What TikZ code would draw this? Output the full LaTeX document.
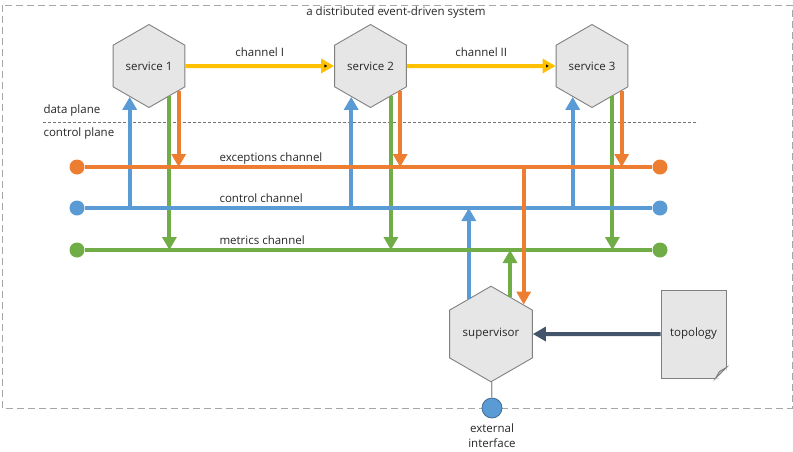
\documentclass[tikz,border=0pt]{standalone}
\usepackage{fontspec}
\setmainfont{Open Sans}
\usepackage{tikz}
\usetikzlibrary{arrows.meta,shapes.geometric,positioning}

\definecolor{exorange}{HTML}{ED7D31}
\definecolor{ctlblue}{HTML}{5B9BD5}
\definecolor{metgreen}{HTML}{70AD47}
\definecolor{datayellow}{HTML}{FFC000}
\definecolor{toponavy}{HTML}{44546A}
\definecolor{hexfill}{HTML}{E7E6E6}
\definecolor{hexline}{HTML}{808080}
\definecolor{foldgray}{HTML}{BFBFBF}

\begin{document}
\begin{tikzpicture}[x=1pt,y=-1pt,node distance=221.5pt,
    >={Triangle[length=13pt,width=14pt]},
    font=\fontsize{11.5}{15}\selectfont,text=black!85,
    service/.style={regular polygon,regular polygon sides=6,shape border rotate=30,
        draw=hexline,fill=hexfill,line width=0.9pt,minimum size=83pt,inner sep=1pt},
    doc/.style={rectangle,draw=hexline,fill=hexfill,line width=0.9pt,minimum width=65pt,minimum height=88pt},
    chan/.style={line width=4pt,draw=#1},
    flow/.style={->,line width=4pt,draw=#1},
    dot/.style={circle,fill=#1,minimum size=15pt,inner sep=0pt},
    ext dot/.style={circle,fill=ctlblue,draw=ctlblue!70!black,line width=0.8pt,minimum size=20pt,inner sep=0pt},
    frame/.style={draw=black!35,line width=1pt,dash pattern=on 7pt off 4pt},
    plane line/.style={draw=black!55,line width=0.8pt,dash pattern=on 3pt off 2pt}]

  \useasboundingbox (0,0) rectangle (793,451);
  \draw[frame] (2,5) rectangle (792,408);
  \node[anchor=base] (title) at (396,15) {a distributed event-driven system};

  \node[service] (s1) at (149,66) {service 1};
  \node[service] (s2) [right of=s1] {service 2};
  \node[service] (s3) [right of=s2] {service 3};
  \node[service] (sup) at (491,334) {supervisor};
  \node[doc] (topo) at (693.5,334) {\raisebox{3pt}{topology}};
  \fill[white] ([yshift=11pt]topo.south east) -- ([xshift=1pt,yshift=-1pt]topo.south east)
        -- ([xshift=-11pt]topo.south east) -- cycle;
  \filldraw[draw=hexline,fill=foldgray,line width=0.9pt] ([yshift=11pt]topo.south east)
        -- ([xshift=-11pt]topo.south east) -- ([xshift=-7pt,yshift=7pt]topo.south east) -- cycle;

  \path[flow=datayellow] (s1) edge node[above=4pt] {channel I} (s2)
                         (s2) edge node[above=4pt] {channel II} (s3);

  \node[anchor=base west] (dp) at (40,113.5) {data plane};
  \node[anchor=base west] (cp) at (40,136.5) {control plane};
  \draw[plane line] (43,122) -- (698,122);

  \node[dot=exorange] (exL) at (77,167) {};
  \node[dot=exorange] (exR) at (660,167) {};
  \node[dot=ctlblue] (ctlL) at (77,208) {};
  \node[dot=ctlblue] (ctlR) at (660,208) {};
  \node[dot=metgreen] (metL) at (77,250) {};
  \node[dot=metgreen] (metR) at (660,250) {};

  \draw[flow=ctlblue] (s1.238 |- ctlL) -- (s1.238);
  \draw[flow=metgreen] (s1.304) -- (s1.304 |- metL);
  \draw[flow=exorange] (s1.320) -- (s1.320 |- exL);
  \draw[flow=ctlblue] (s2.238 |- ctlL) -- (s2.238);
  \draw[flow=metgreen] (s2.304) -- (s2.304 |- metL);
  \draw[flow=exorange] (s2.320) -- (s2.320 |- exL);
  \draw[flow=ctlblue] (s3.238 |- ctlL) -- (s3.238);
  \draw[flow=metgreen] (s3.304) -- (s3.304 |- metL);
  \draw[flow=exorange] (s3.320) -- (s3.320 |- exL);
  \draw[flow=ctlblue] (sup.122) -- (sup.122 |- ctlL);
  \draw[flow=metgreen] (sup.63) -- (sup.63 |- metL);

  \draw[chan=exorange] (exL) -- (exR);
  \draw[chan=ctlblue] (ctlL) -- (ctlR);
  \draw[chan=metgreen] (metL) -- (metR);
  \node[anchor=base west] (exlbl) at (216,161) {exceptions channel};
  \node[anchor=base west] (ctllbl) at (216,202.5) {control channel};
  \node[anchor=base west] (metlbl) at (216,244) {metrics channel};

  \draw[flow=exorange] (sup.42 |- exL) -- (sup.42);
  \draw[flow=toponavy] (topo) -- (sup);

  \node[ext dot] (ext) at (492,408) {};
  \draw[draw=black!40,line width=1.2pt] (sup) -- (ext);
  \node[align=center,inner sep=0pt,below=5pt of ext] (extlbl) {external\\interface};
\end{tikzpicture}
\end{document}
